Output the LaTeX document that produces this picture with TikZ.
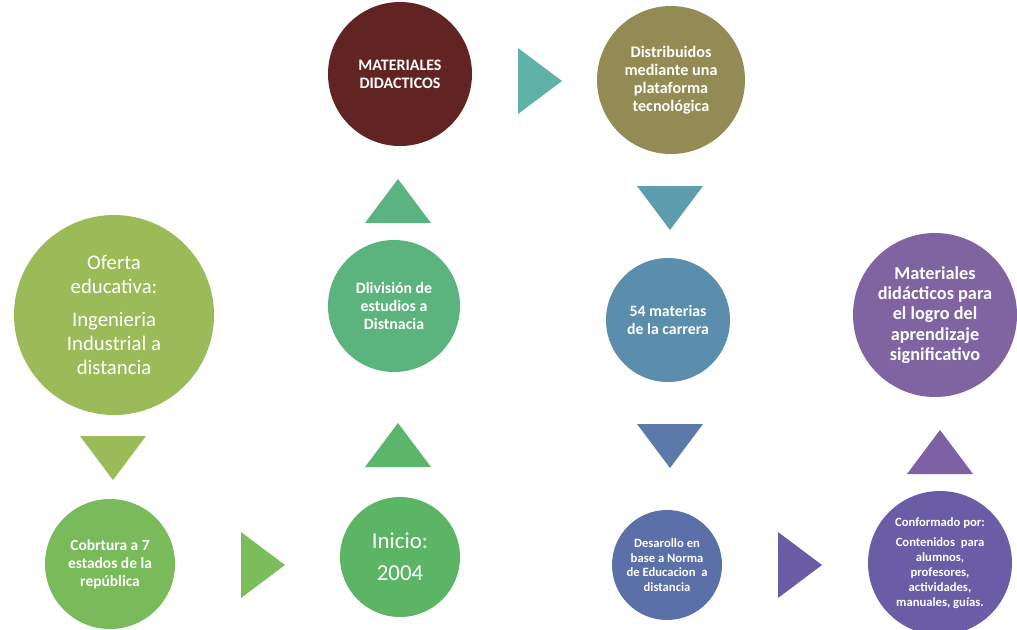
\documentclass[tikz,border=0pt]{standalone}
\usepackage{fontspec}
\setmainfont{Carlito}
\def\px{0.02cm}
\definecolor{ofertaGreen}{HTML}{9BBB59}
\definecolor{coberGreen}{HTML}{79BB5B}
\definecolor{inicioGreen}{HTML}{5BB565}
\definecolor{divGreen}{HTML}{5BB37E}
\definecolor{matRed}{HTML}{622423}
\definecolor{distOlive}{HTML}{948A54}
\definecolor{matBlue}{HTML}{5B8DAD}
\definecolor{desBlue}{HTML}{5B6FA8}
\definecolor{confPurple}{HTML}{6A5DA5}
\definecolor{logroPurple}{HTML}{8064A2}

\begin{document}
\begin{tikzpicture}[
    x=\px, y=-\px,
    bubble/.style 2 args={
      circle, fill=#1, text=white, inner sep=0pt, align=center,
      minimum size=#2*\px
    },
    txt/.style 2 args={
      font=\fontsize{#1}{#2}\selectfont\bfseries
    },
    plain/.style 2 args={
      font=\fontsize{#1}{#2}\selectfont
    }
  ]
    \useasboundingbox (0,0) rectangle (1017,629);

    % left column
    \node[bubble={ofertaGreen}{200}, plain={11.8}{13.7}] (oferta) at (114,315)
      {Oferta\\educativa:\\[5pt]
       Ingenieria\\Industrial a\\distancia};
    \node[bubble={coberGreen}{130}, txt={8.8}{10.2}] (cobertura) at (110,564)
      {Cobrtura a 7\\estados de la\\república};

    % second column
    \node[bubble={inicioGreen}{120}, plain={13}{18}] (inicio) at (400,557)
      {Inicio:\\2004};
    \node[bubble={divGreen}{132}, txt={9}{10}] (division) at (394,306)
      {Dlivisión de\\estudios a\\Distnacia};
    \node[bubble={matRed}{144}, txt={9.1}{10.2}] (materiales) at (400,74)
      {MATERIALES\\DIDACTICOS};

    % third column
    \node[bubble={distOlive}{148}, txt={9.2}{10.2}] (distribuidos) at (671,80)
      {Distribuidos\\mediante una\\plataforma\\tecnológica};
    \node[bubble={matBlue}{124}, txt={9}{10.2}] (materias) at (668,320)
      {54 materias\\de la carrera};
    \node[bubble={desBlue}{110}, txt={7.2}{8.4}] (desarrollo) at (667,565)
      {Desarollo en\\base a Norma\\de Educacion~ a\\distancia};

    % right column
    \node[bubble={confPurple}{144}, txt={7.2}{8.5}] (conformado) at (940,563)
      {Conformado por:\\[3pt]
       Contenidos~ para\\alumnos,\\profesores,\\actividades,\\manuales, guías.};
    \node[bubble={logroPurple}{164}, txt={10.4}{11.6}] (logro) at (935,315)
      {Materiales\\didácticos para\\el logro del\\aprendizaje\\significativo};

    % triangles: x / y / rotation / colour
    \def\triangles{
      113/458/0/9BBB59,
      398/201/180/5BB381,
      398/445/180/5BB56A,
      540/81/90/5EB3A6,
      263/565/90/7ABD5B,
      670/208/0/5D9DAE,
      670/446/0/5B7AAA,
      800/565/90/6A5BA5,
      940/452/180/7E60A5
    }

    \foreach \x / \y / \rot / \col in \triangles {
      \definecolor{triFill}{HTML}{\col}
      \fill[triFill, shift={(\x,\y)}, rotate=\rot]
        (-33,-22) -- (33,-22) -- (0,22) -- cycle;
    }
  \end{tikzpicture}
\end{document}
